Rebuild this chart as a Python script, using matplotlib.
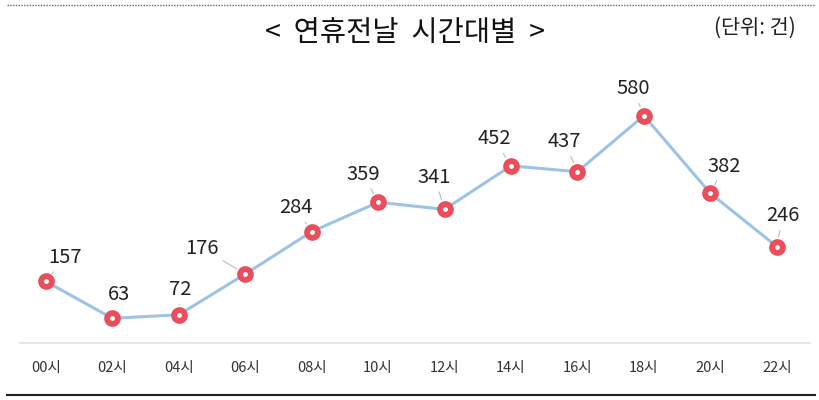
import matplotlib
matplotlib.use("Agg")
import matplotlib.pyplot as plt
from matplotlib.lines import Line2D

plt.rcParams['font.family'] = ['Noto Sans CJK KR', 'DejaVu Sans']

# data
hours = ["00시", "02시", "04시", "06시", "08시", "10시",
         "12시", "14시", "16시", "18시", "20시", "22시"]
counts = [157, 63, 72, 176, 284, 359, 341, 452, 437, 580, 382, 246]
# label offsets (pixels) from each point
label_dx = [19, 7, 1, -43, -16, -15, -10, -17, -13, -11, 14, 6]
label_dy = [24, 24, 25, 26, 24, 28, 32, 27, 30, 27, 27, 31]

fig = plt.figure(figsize=(8.2, 4.0), dpi=100)
ax = fig.add_axes([20/820, 57/400, 790/820, 283/400])

x = list(range(len(hours)))
ax.plot(x, counts, color='#9DC3E6', lw=2.2, zorder=2,
        marker='o', ms=7.8, mew=4.2, mfc='white', mec='#EA4E5A')

for i, v in enumerate(counts):
    ax.annotate(str(v), (i, v), xytext=(label_dx[i], label_dy[i]),
                textcoords='offset pixels', ha='center', va='center',
                fontsize=14.5, color='#222222', zorder=3,
                arrowprops=dict(arrowstyle='-', color='#BBBBBB', lw=0.8,
                                shrinkA=1, shrinkB=7))

ax.set_xlim(-0.39, 11.5)
ax.set_ylim(0, 722)
ax.set_xticks(x)
ax.set_xticklabels(hours, fontsize=10.5, color='#333333')
ax.tick_params(axis='x', length=0, pad=13)
ax.set_yticks([])
for s in ['top', 'left', 'right']:
    ax.spines[s].set_visible(False)
ax.spines['bottom'].set_color('#E0E0E0')
ax.spines['bottom'].set_linewidth(1.2)

fig.text(0.494, 0.918, "<  연휴전날  시간대별  >", ha='center', va='center',
         fontsize=20.5, color='#111111')
fig.text(0.921, 0.93, "(단위: 건)", ha='center', va='center',
         fontsize=15, color='#222222')

# dotted line at the top, solid line at the bottom
fig.add_artist(Line2D([7/820, 815/820], [395/400, 395/400], color='#666666',
                      lw=1, ls=(0, (1, 1))))
fig.add_artist(Line2D([7/820, 815/820], [5/400, 5/400], color='#222222', lw=1.5))

fig.savefig("out.png", dpi=100)
